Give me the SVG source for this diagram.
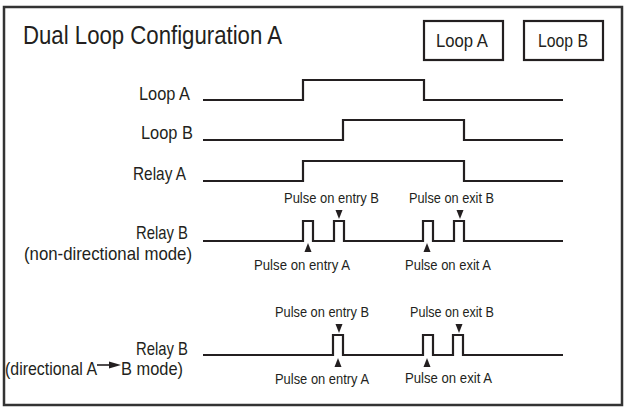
<svg xmlns="http://www.w3.org/2000/svg" width="630" height="413" viewBox="0 0 630 413">
<style>
text{font-family:"Liberation Sans",Arial,sans-serif;fill:#231f20}
.t{font-size:25px}
.lbl{font-size:19px}
.p{font-size:15px}
.w{fill:none;stroke:#231f20;stroke-width:2.2;stroke-linejoin:miter}
.tri{fill:#231f20}
</style>
<rect x="0" y="0" width="630" height="413" fill="#fff"/>
<rect x="4" y="7" width="618" height="398" fill="none" stroke="#333" stroke-width="2.5"/>
<g id="title"><text class="t" x="23" y="44" textLength="259" lengthAdjust="spacingAndGlyphs">Dual Loop Configuration A</text></g>
<g id="legend-loopA"><rect x="424" y="21" width="79" height="39" fill="none" stroke="#231f20" stroke-width="2.2"/><text class="lbl" x="436" y="47" textLength="52" lengthAdjust="spacingAndGlyphs">Loop A</text></g>
<g id="legend-loopB"><rect x="524" y="21" width="79" height="39" fill="none" stroke="#231f20" stroke-width="2.2"/><text class="lbl" x="538" y="47" textLength="50" lengthAdjust="spacingAndGlyphs">Loop B</text></g>
<g id="row-loopA"><text class="lbl" x="139" y="100" textLength="51" lengthAdjust="spacingAndGlyphs">Loop A</text><path class="w" d="M203,100 H303 V80 H424 V100 H563"/></g>
<g id="row-loopB"><text class="lbl" x="141" y="139" textLength="52" lengthAdjust="spacingAndGlyphs">Loop B</text><path class="w" d="M203,140 H343 V120 H464 V140 H563"/></g>
<g id="row-relayA"><text class="lbl" x="133" y="180" textLength="53" lengthAdjust="spacingAndGlyphs">Relay A</text><path class="w" d="M203,181 H303 V161 H464 V181 H563"/></g>
<g id="row-relayB-nondir">
<text class="lbl" x="136" y="239" textLength="52" lengthAdjust="spacingAndGlyphs">Relay B</text>
<text class="lbl" x="24" y="260" textLength="168" lengthAdjust="spacingAndGlyphs">(non-directional mode)</text>
<path class="w" d="M203,241 H303 V221 H313 V241 H334 V221 H344 V241 H423 V221 H433 V241 H454 V221 H464 V241 H563"/>
<text class="p" x="284" y="203" textLength="95" lengthAdjust="spacingAndGlyphs">Pulse on entry B</text>
<text class="p" x="409" y="203" textLength="85" lengthAdjust="spacingAndGlyphs">Pulse on exit B</text>
<text class="p" x="254" y="270" textLength="96" lengthAdjust="spacingAndGlyphs">Pulse on entry A</text>
<text class="p" x="405" y="270" textLength="86" lengthAdjust="spacingAndGlyphs">Pulse on exit A</text>
<polygon class="tri" points="335.5,210 342.5,210 339,219"/>
<polygon class="tri" points="456.5,210 463.5,210 460,219"/>
<polygon class="tri" points="304.5,252 311.5,252 308,243"/>
<polygon class="tri" points="423.5,252 430.5,252 427,243"/>
</g>
<g id="row-relayB-dir">
<text class="lbl" x="136" y="355" textLength="52" lengthAdjust="spacingAndGlyphs">Relay B</text>
<text class="lbl" x="5" y="375" textLength="92" lengthAdjust="spacingAndGlyphs">(directional A</text>
<line x1="97" y1="365" x2="111" y2="365" stroke="#231f20" stroke-width="1.6"/>
<polygon class="tri" points="109,361.5 121,365 109,368.5"/>
<text class="lbl" x="121" y="375" textLength="62" lengthAdjust="spacingAndGlyphs">B mode)</text>
<path class="w" d="M203,355 H333 V335 H343 V355 H423 V335 H433 V355 H453 V335 H463 V355 H563"/>
<text class="p" x="275" y="317" textLength="94" lengthAdjust="spacingAndGlyphs">Pulse on entry B</text>
<text class="p" x="410" y="317" textLength="84" lengthAdjust="spacingAndGlyphs">Pulse on exit B</text>
<text class="p" x="275" y="384" textLength="94" lengthAdjust="spacingAndGlyphs">Pulse on entry A</text>
<text class="p" x="405" y="383" textLength="87" lengthAdjust="spacingAndGlyphs">Pulse on exit A</text>
<polygon class="tri" points="335.5,324 342.5,324 339,333"/>
<polygon class="tri" points="455.5,324 462.5,324 459,333"/>
<polygon class="tri" points="334.5,367 341.5,367 338,358"/>
<polygon class="tri" points="423.5,367 430.5,367 427,358"/>
</g>
</svg>
